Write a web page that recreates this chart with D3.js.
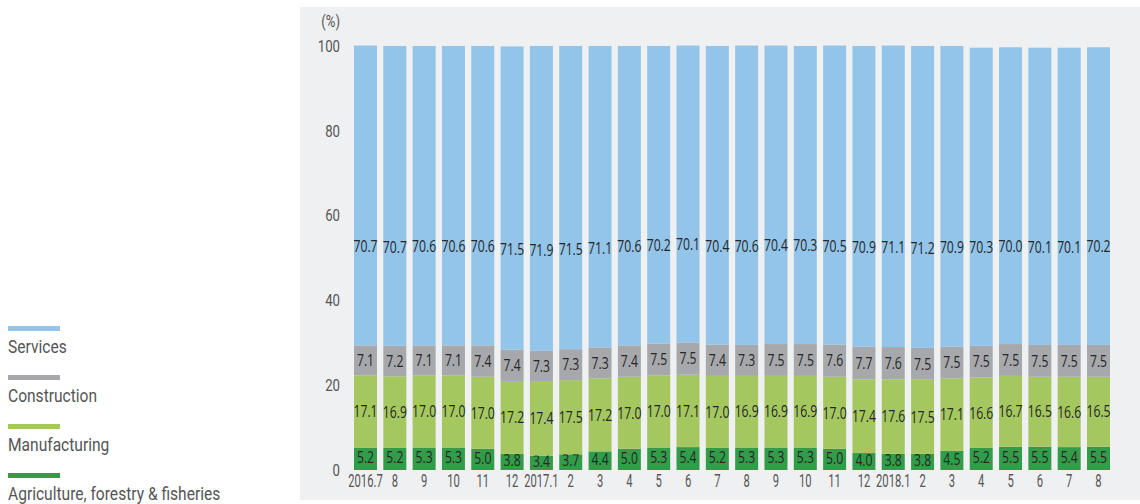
<!doctype html>
<html>
<head>
<meta charset="utf-8">
<style>
  body { margin: 0; background: #fff; }
  text { font-family: "Roboto", sans-serif; }
</style>
<script src="https://d3js.org/d3.v7.min.js"></script>
</head>
<body>
<svg width="1140" height="504"></svg>
<script>
// data
var months = ["2016.7","8","9","10","11","12","2017.1","2","3","4","5","6","7","8","9","10","11","12","2018.1","2","3","4","5","6","7","8"];
var agriculture   = [5.2,5.2,5.3,5.3,5.0,3.8,3.4,3.7,4.4,5.0,5.3,5.4,5.2,5.3,5.3,5.3,5.0,4.0,3.8,3.8,4.5,5.2,5.5,5.5,5.4,5.5];
var manufacturing = [17.1,16.9,17.0,17.0,17.0,17.2,17.4,17.5,17.2,17.0,17.0,17.1,17.0,16.9,16.9,16.9,17.0,17.4,17.6,17.5,17.1,16.6,16.7,16.5,16.6,16.5];
var construction  = [7.1,7.2,7.1,7.1,7.4,7.4,7.3,7.3,7.3,7.4,7.5,7.5,7.4,7.3,7.5,7.5,7.6,7.7,7.6,7.5,7.5,7.5,7.5,7.5,7.5,7.5];
var services      = [70.7,70.7,70.6,70.6,70.6,71.5,71.9,71.5,71.1,70.6,70.2,70.1,70.4,70.6,70.4,70.3,70.5,70.9,71.1,71.2,70.9,70.3,70.0,70.1,70.1,70.2];
var seriesNames  = ["Agriculture, forestry & fisheries","Manufacturing","Construction","Services"];
var seriesColors = ["#329c48","#a4c85f","#a7a8ab","#93c4e9"];
var yTicks = [0,20,40,60,80,100];

var svg = d3.select("svg");

// panel background
svg.append("rect").attr("x",300).attr("y",7).attr("width",840).attr("height",493).attr("fill","#eff0f2");

var x = d3.scaleBand().domain(d3.range(months.length)).range([354, 1110]).paddingInner(0.2156).paddingOuter(0);
var y = d3.scaleLinear().domain([0,100]).range([470,46]);

var rows = months.map(function(m,i){
  return {month:m, agr:agriculture[i], man:manufacturing[i], con:construction[i], ser:services[i]};
});
var layers = d3.stack().keys(["agr","man","con","ser"])(rows);

var g = svg.append("g");
layers.forEach(function(layer, k){
  g.selectAll(null).data(layer).enter().append("rect")
    .attr("x", function(d,i){ return x(i); })
    .attr("width", x.bandwidth())
    .attr("y", function(d){ return y(d[1]); })
    .attr("height", function(d){ return y(d[0]) - y(d[1]); })
    .attr("fill", seriesColors[k]);

  // value labels (services label sits low in its segment)
  g.selectAll(null).data(layer).enter().append("text")
    .attr("transform", function(d,i){
      var f = k == 3 ? 0.33 : 0.5;
      var cy = y(d[0] + (d[1]-d[0])*f) + (k == 0 ? -1.5 : 0);
      return "translate(" + (x(i) + x.bandwidth()/2) + "," + cy + ") scale(0.76,1)";
    })
    .attr("dy","0.36em")
    .attr("text-anchor","middle")
    .style("font-family","'Open Sans', sans-serif")
    .attr("font-size","16px")
    .attr("fill","#262626")
    .text(function(d){ return (d[1]-d[0]).toFixed(1); });
});

// y axis
var yAxis = svg.append("g").attr("transform","translate(340,0)")
  .call(d3.axisLeft(y).tickValues(yTicks).tickSize(0).tickPadding(0));
yAxis.select(".domain").remove();
yAxis.selectAll("text").attr("font-size","16.5px").attr("fill","#555")
  .attr("transform","scale(0.8,1)");

svg.append("text").attr("transform","translate(340,27) scale(0.82,1)").attr("text-anchor","end")
  .attr("font-size","16px").attr("fill","#555").text("(%)");

// x axis
var xAxis = svg.append("g").attr("transform","translate(0,475)")
  .call(d3.axisBottom(x).tickSize(0).tickPadding(0).tickFormat(function(i){ return months[i]; }));
xAxis.select(".domain").remove();
xAxis.selectAll("text").attr("font-size","17.5px").attr("fill","#555")
  .attr("transform","scale(0.64,1)");

// legend
var legend = svg.append("g");
[3,2,1,0].forEach(function(k, j){
  var ly = 326 + j*49;
  legend.append("rect").attr("x",8).attr("y",ly).attr("width",52).attr("height",5).attr("fill",seriesColors[k]);
  legend.append("text").attr("transform","translate(8," + (ly+27) + ") scale(0.82,1)")
    .attr("font-size","19px").attr("fill","#555").text(seriesNames[k]);
});
</script>
</body>
</html>
